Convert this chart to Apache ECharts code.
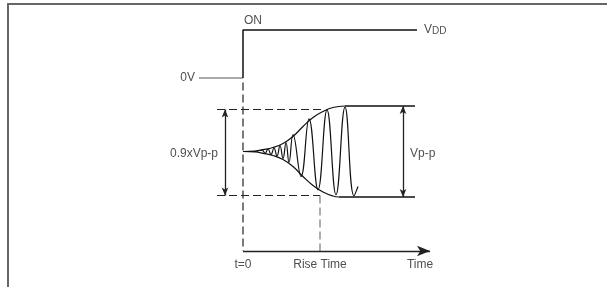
<!DOCTYPE html>
<html>
<head>
<meta charset="utf-8">
<script src="https://cdn.jsdelivr.net/npm/echarts@6/dist/echarts.min.js"></script>
<style>
  html, body { margin: 0; padding: 0; background: #fff; }
  #container { width: 607px; height: 287px; }
</style>
</head>
<body>
<div id="container"></div>
<script>
// diagram units: x = time after switch-on (t=0), y = level around the oscillation centre
var offLine = [[-44, 73.5], [0, 73.5]];                 // 0V before power on
var onLine = [[0, 73.5], [0, 121.5], [174, 121.5]];    // step up to VDD
var t0Dash = [[0, 69], [0, -99.5]];
var topDash = [[-26, 42], [80, 42]];                   // 0.9 x Vp-p levels
var bottomDash = [[-26, -44], [77, -44]];
var riseDash = [[77, -44], [77, -99.5]];
var topFlat = [[102, 45.5], [172, 45.5]];
var bottomFlat = [[96, -45.5], [172, -45.5]];

var envTop = [[0, 0], [12, 0.5], [20, 1.8], [30, 4], [40, 8], [50, 15], [60, 25], [70, 34], [80, 40], [90, 44], [102, 45.5]];
var envBottom = [[0, 0], [12, -0.5], [20, -1.8], [30, -4], [40, -8], [50, -15], [60, -25], [70, -34], [80, -40.5], [90, -44.5], [96, -45.5]];

var wave = [[0, 0], [12, 0], [19, 1.5], [22, -1.8], [25, 2.5], [28, -3], [31, 3.5], [34, -4.5], [37, 6], [40, -7],
            [43, 9], [46, -11], [50, 17], [58, -25], [66, 32.7], [75, -38.3], [84, 41.7], [93, -43.3], [102, 44.4],
            [111, -44.3], [115, -35]];

var timeArrow = [[0, -99.5], [187, -99.5]];
var leftArrow = [[-18, 42], [-18, -44]];
var rightArrow = [[160, 45.5], [160, -45.5]];

var labelNames = ['ON', 'VDD', '0V', '0.9xVp-p', 'Vp-p', 't=0', 'Rise Time', 'Time'];
var labelPoints = [[0, 131], [179, 121.5], [-46, 73.5], [-49, -2], [165, -2], [0, -113.5], [77, -113.5], [177, -113.5]];

var dom = document.getElementById("container");
var myChart = echarts.init(dom);

function seg(data, color, width, dash) {
    return {
        type: 'line', data: data, symbol: 'none', silent: true,
        lineStyle: { color: color, width: width, type: dash || 'solid' }
    };
}
function curve(data) {
    var s = seg(data, '#111', 1.2);
    s.smooth = 0.45;
    return s;
}
function arrowLine(pts, ends, size) {
    return {
        type: 'line', data: [], symbol: 'none', silent: true,
        markLine: {
            silent: true, animation: false,
            symbol: ends, symbolSize: size,
            label: { show: false },
            lineStyle: { color: '#222', width: 1.3, type: 'solid' },
            emphasis: { disabled: true },
            data: [[{ coord: pts[0] }, { coord: pts[1] }]]
        }
    };
}

var textPos = ['right', 'right', 'left', 'inside', 'right', 'inside', 'inside', 'inside'];
var labelData = labelNames.map(function (n, i) {
    var item = { value: labelPoints[i], name: n, label: { position: textPos[i], distance: 2 } };
    if (n == 'VDD') item.label.formatter = '{a|V}{b|DD}';
    if (n == 'ON') item.label.distance = 1;
    return item;
});

var option = {
    animation: false,
    grid: { left: 8, top: 4, right: 0, bottom: 0 },
    xAxis: {
        type: 'value', position: 'top', min: -235, max: 364,
        axisLine: { show: true, onZero: false, lineStyle: { color: '#666', width: 2 } },
        axisTick: { show: false }, axisLabel: { show: false }, splitLine: { show: false }
    },
    yAxis: {
        type: 'value', position: 'left', min: -135.5, max: 147.5,
        axisLine: { show: true, onZero: false, lineStyle: { color: '#666', width: 2 } },
        axisTick: { show: false }, axisLabel: { show: false }, splitLine: { show: false }
    },
    series: [
        seg(offLine, '#555', 1),
        seg(onLine, '#111', 1.5),
        seg(t0Dash, '#222', 1.2, [8, 4]),
        seg(topDash, '#222', 1.2, [8, 4]),
        seg(bottomDash, '#222', 1.2, [8, 4]),
        seg(riseDash, '#777', 1.2, [8, 4]),
        seg(topFlat, '#111', 1.4),
        seg(bottomFlat, '#111', 1.4),
        curve(envTop),
        curve(envBottom),
        curve(wave),
        arrowLine(timeArrow, ['none', 'arrow'], [8, 13]),
        arrowLine(leftArrow, ['arrow', 'arrow'], [5, 8]),
        arrowLine(rightArrow, ['arrow', 'arrow'], [5, 8]),
        {
            type: 'scatter', symbolSize: 0, silent: true, data: labelData,
            label: {
                show: true, formatter: '{b}', color: '#222',
                fontFamily: 'Liberation Sans', fontSize: 12,
                rich: {
                    a: { fontFamily: 'Liberation Sans', fontSize: 12, color: '#222', verticalAlign: 'bottom', lineHeight: 12 },
                    b: { fontFamily: 'Liberation Sans', fontSize: 10, color: '#222', verticalAlign: 'bottom', lineHeight: 10 }
                }
            }
        }
    ]
};

if (option && typeof option === "object") {
    myChart.setOption(option, true);
}
</script>
</body>
</html>
